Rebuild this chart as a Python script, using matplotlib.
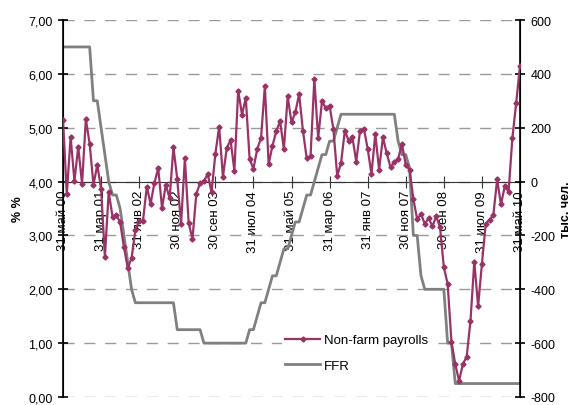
import matplotlib
matplotlib.use("Agg")
import matplotlib.pyplot as plt
from matplotlib.ticker import FuncFormatter, MultipleLocator
from matplotlib.lines import Line2D

plt.rcParams['font.family'] = ['Liberation Sans', 'DejaVu Sans']
plt.rcParams['font.size'] = 9
plt.rcParams['lines.scale_dashes'] = False

# monthly, May 2000 .. May 2010
payrolls = [229, -46, 166, 2, 129, -9, 232, 140, -12, 62,
            -27, -280, -38, -131, -124, -151, -243, -321, -285, -180,
            -145, -146, -19, -83, -5, 50, -98, -12, -62, 127,
            10, -157, 86, -155, -213, -46, -6, 1, 28, -40,
            102, 204, 18, 125, 154, 41, 338, 249, 310, 84,
            47, 121, 162, 354, 65, 133, 187, 224, 121, 316,
            220, 257, 325, 189, 86, 94, 381, 161, 298, 273,
            282, 195, 22, 68, 189, 152, 164, 74, 189, 197,
            122, 28, 177, 44, 164, 105, 53, 72, 84, 140,
            62, 44, -65, -140, -120, -157, -136, -166, -129, -170,
            -318, -380, -595, -678, -740, -678, -650, -517, -297, -463,
            -305, -157, -141, -124, 8, -85, -18, -37, 162, 292,
            430]

ffr = ([6.50] * 8 +
       [5.50, 5.50, 5.00, 4.50, 4.00, 3.75, 3.75, 3.50, 3.00, 2.50, 2.00, 1.75] +
       [1.75] * 10 + [1.25] * 7 + [1.00] * 12 +
       [1.25, 1.25, 1.50, 1.75, 1.75, 2.00, 2.25, 2.25, 2.50, 2.75, 2.75, 3.00,
        3.25, 3.25, 3.50, 3.75, 3.75, 4.00, 4.25, 4.50, 4.50, 4.75, 4.75, 5.00, 5.25] +
       [5.25] * 14 +
       [4.75, 4.50, 4.50, 4.25, 3.00, 3.00, 2.25, 2.00] + [2.00] * 5 +
       [1.00, 1.00, 0.25] + [0.25] * 17)

xlabels = ['31 май 00', '31 мар 01', '31 янв 02', '30 ноя 02', '30 сен 03',
           '31 июл 04', '31 май 05', '31 мар 06', '31 янв 07', '30 ноя 07',
           '30 сен 08', '31 июл 09', '31 май 10']

x = list(range(len(payrolls)))
magenta = '#993366'
gray = '#808080'

fig = plt.figure(figsize=(5.72, 4.06), dpi=100)
ax = fig.add_axes([63 / 572, 1 - 398 / 406, 457 / 572, 377 / 406])
ax2 = ax.twinx()

ax.plot(x, ffr, color=gray, lw=2.0, zorder=3)
ax2.plot(x, payrolls, color=magenta, lw=1.6, marker='D', ms=2.6, zorder=3)

ax.set_xlim(0, len(x) - 1)
ax.set_ylim(0, 7)
ax2.set_ylim(-800, 600)
ax.yaxis.set_major_locator(MultipleLocator(1))
ax2.yaxis.set_major_locator(MultipleLocator(200))
ax.yaxis.set_major_formatter(FuncFormatter(lambda v, p: f'{v:.2f}'.replace('.', ',')))
ax2.yaxis.set_major_formatter(FuncFormatter(lambda v, p: f'{v:.0f}'))

ax.grid(axis='y', color='#9a9a9a', lw=1.0, linestyle=(0, (8, 7)))
ax.set_axisbelow(True)

for a in (ax, ax2):
    a.spines['top'].set_visible(False)
ax2.spines['bottom'].set_visible(False)
ax.spines['bottom'].set_position(('data', 4))
ax.spines['bottom'].set_color('#333333')
ax.spines['left'].set_linewidth(1.2)
ax2.spines['right'].set_linewidth(1.2)

ax.set_xticks(range(0, len(x), 10))
ax.set_xticklabels(xlabels, rotation=90, fontsize=9.5)
ax.tick_params(axis='x', direction='inout', length=8, pad=2, color='#333333')
ax.tick_params(axis='y', direction='inout', length=7, width=1.2, pad=4)
ax2.tick_params(axis='y', direction='inout', length=7, width=1.2, pad=4)

ax.set_ylabel('% %', fontweight='bold', labelpad=3)
ax2.set_ylabel('тыс. чел.', fontweight='bold', labelpad=3)

handles = [Line2D([], [], color=magenta, lw=1.6, marker='D', ms=2.6),
           Line2D([], [], color=gray, lw=2.0)]
leg = ax2.legend(handles, ['Non-farm payrolls', 'FFR'], loc='center left',
                 bbox_to_anchor=(0.465, 0.117), frameon=True, fancybox=False,
                 edgecolor='none', facecolor='white', framealpha=1,
                 handlelength=2.7, handletextpad=0.3, labelspacing=1.0,
                 borderpad=0.2, fontsize=9.5)

fig.savefig('out.png', dpi=100)
